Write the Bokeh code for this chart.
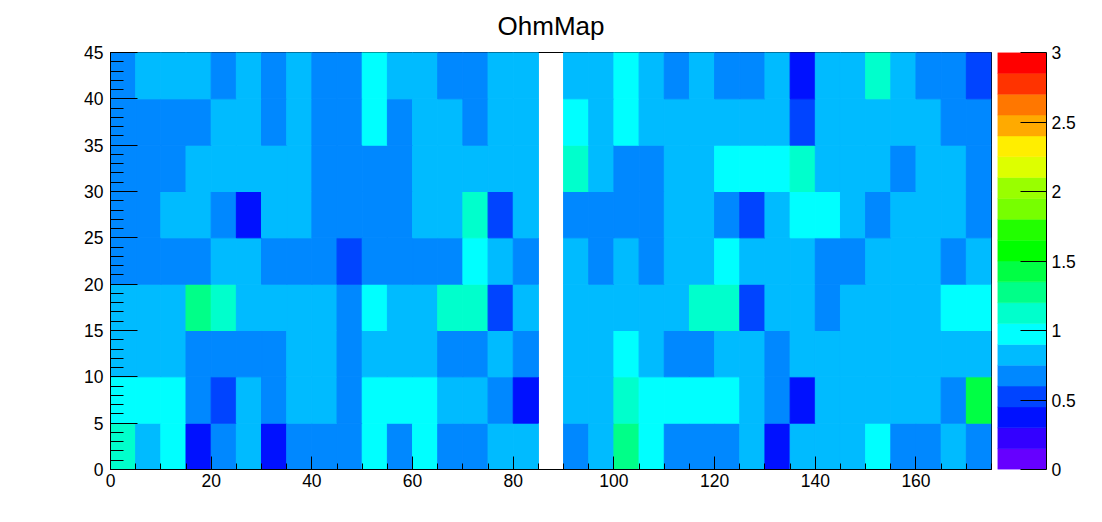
from bokeh.plotting import figure
from bokeh.models import ColumnDataSource, LinearColorMapper, LinearAxis, FixedTicker, Span
from bokeh.transform import transform
from bokeh.layouts import row
from bokeh.embed import file_html
from bokeh.resources import INLINE

title_text = "OhmMap"
cell_width = 5
cell_height = 5
z_min, z_max = 0, 3
palette = ["#6600ff", "#3300ff", "#0011ff", "#0044ff", "#0088ff", "#00bbff", "#00ffff",
           "#00ffcc", "#00ff88", "#00ff44", "#00ff00", "#22ff00", "#77ff00", "#99ff00",
           "#ddff00", "#ffee00", "#ffaa00", "#ff7700", "#ff3300", "#ff0000"]

# values (colour band centres); _ = empty bin
D, N, B, L, C, T, G, H = 0.375, 0.525, 0.675, 0.825, 0.975, 1.125, 1.275, 1.425
_ = None
row_0_5 = [T, L, C, D, B, L, D, B, B, B, C, B, C, B, B, L, L, _,
           B, L, G, C, B, B, B, L, D, L, L, L, C, B, B, L, B]
row_5_10 = [C, C, C, B, N, L, B, L, L, B, C, C, C, L, L, B, D, _,
            L, L, T, C, C, C, C, L, B, D, L, L, L, L, L, B, H]
row_10_15 = [L, L, L, B, B, B, B, L, L, B, L, L, L, B, B, L, B, _,
             L, L, C, L, B, B, L, L, B, L, L, L, L, L, L, L, L]
row_15_20 = [L, L, L, G, T, L, L, L, L, B, C, L, L, T, T, N, L, _,
             L, L, L, L, L, T, T, N, L, L, B, L, L, L, L, C, C]
row_20_25 = [B, B, B, B, L, L, B, B, B, N, B, B, B, B, C, L, B, _,
             L, B, L, B, L, L, C, L, L, L, B, B, L, L, L, B, L]
row_25_30 = [B, B, L, L, B, D, L, L, B, B, B, B, L, L, T, N, L, _,
             B, B, B, B, L, L, B, N, L, C, C, L, B, L, L, L, B]
row_30_35 = [B, B, B, L, L, L, L, L, B, B, B, B, L, L, L, L, L, _,
             T, L, B, B, L, L, C, C, C, T, L, L, L, B, L, L, B]
row_35_40 = [B, B, B, B, L, L, B, L, B, B, C, B, L, L, B, L, L, _,
             C, L, C, L, L, L, L, L, L, N, L, L, L, L, L, B, B]
row_40_45 = [B, L, L, L, B, L, B, L, B, B, C, L, L, B, B, L, L, _,
             L, L, C, L, B, L, B, B, L, D, L, L, T, L, B, B, N]
rows = [row_0_5, row_5_10, row_10_15, row_15_20, row_20_25, row_25_30, row_30_35, row_35_40, row_40_45]

FONT = "Liberation Sans"
x0, x1, y0, y1, v = [], [], [], [], []
for j, rw in enumerate(rows):
    for i, val in enumerate(rw):
        if val is None:
            continue
        x0.append(i * cell_width); x1.append((i + 1) * cell_width)
        y0.append(j * cell_height); y1.append((j + 1) * cell_height)
        v.append(val)
source = ColumnDataSource(dict(x0=x0, x1=x1, y0=y0, y1=y1, v=v))
mapper = LinearColorMapper(palette=palette, low=z_min, high=z_max)

p = figure(width=992, height=510, x_range=(0, 175), y_range=(0, 45),
           output_backend="svg", toolbar_location=None,
           min_border_left=110, min_border_right=1, min_border_top=52, min_border_bottom=41)
p.grid.visible = False
p.title.text = title_text
p.title.align = "center"
p.title.vertical_align = "top"
p.title.text_font = FONT
p.title.text_font_size = "26px"
p.title.text_font_style = "normal"
p.title.text_color = "black"
p.title.offset = 0
p.title.standoff = 20
p.outline_line_color = "black"
p.quad(left="x0", right="x1", bottom="y0", top="y1", source=source,
       fill_color=transform("v", mapper), line_color=transform("v", mapper), line_width=1)
p.add_layout(Span(location=175, dimension="height", line_color="black", line_width=1))

p.xaxis.ticker = FixedTicker(ticks=list(range(0, 161, 20)), minor_ticks=list(range(0, 176, 5)))
p.yaxis.ticker = FixedTicker(ticks=list(range(0, 46, 5)), minor_ticks=list(range(0, 46, 1)))
for ax in (p.xaxis[0], p.yaxis[0]):
    ax.axis_line_color = "black"
    ax.major_tick_line_color = "black"
    ax.minor_tick_line_color = "black"
    ax.major_tick_out = 0
    ax.minor_tick_out = 0
    ax.major_label_text_font = FONT
    ax.major_label_text_font_size = "17.5px"
    ax.major_label_text_color = "black"
p.xaxis.major_tick_in = 13
p.xaxis.minor_tick_in = 6
p.yaxis.major_tick_in = 27
p.yaxis.minor_tick_in = 13
p.xaxis.major_label_standoff = 4
p.yaxis.major_label_standoff = 7

# colour scale
n = len(palette)
step = (z_max - z_min) / n
bar = ColumnDataSource(dict(b=[z_min + k * step for k in range(n)],
                            t=[z_min + (k + 1) * step for k in range(n)],
                            c=palette))
cb = figure(width=94, height=510, x_range=(0, 1), y_range=(z_min, z_max),
            output_backend="svg", toolbar_location=None,
            min_border_left=5, min_border_right=40, min_border_top=52, min_border_bottom=41)
cb.grid.visible = False
cb.outline_line_color = None
cb.xaxis.visible = False
cb.yaxis.visible = False
cb.quad(left=0, right=1, bottom="b", top="t", fill_color="c", line_color="c", line_width=0.5, source=bar)
ax = LinearAxis(ticker=FixedTicker(ticks=[0, 0.5, 1, 1.5, 2, 2.5, 3]))
ax.axis_line_color = "black"
ax.major_tick_line_color = "black"
ax.major_tick_in = 26
ax.major_tick_out = 0
ax.minor_tick_line_color = None
ax.major_label_text_font = FONT
ax.major_label_text_font_size = "17.5px"
ax.major_label_text_color = "black"
ax.major_label_standoff = 5
cb.add_layout(ax, "right")

layout = row(p, cb, spacing=0)
open("out.html", "w").write(file_html(layout, INLINE))
